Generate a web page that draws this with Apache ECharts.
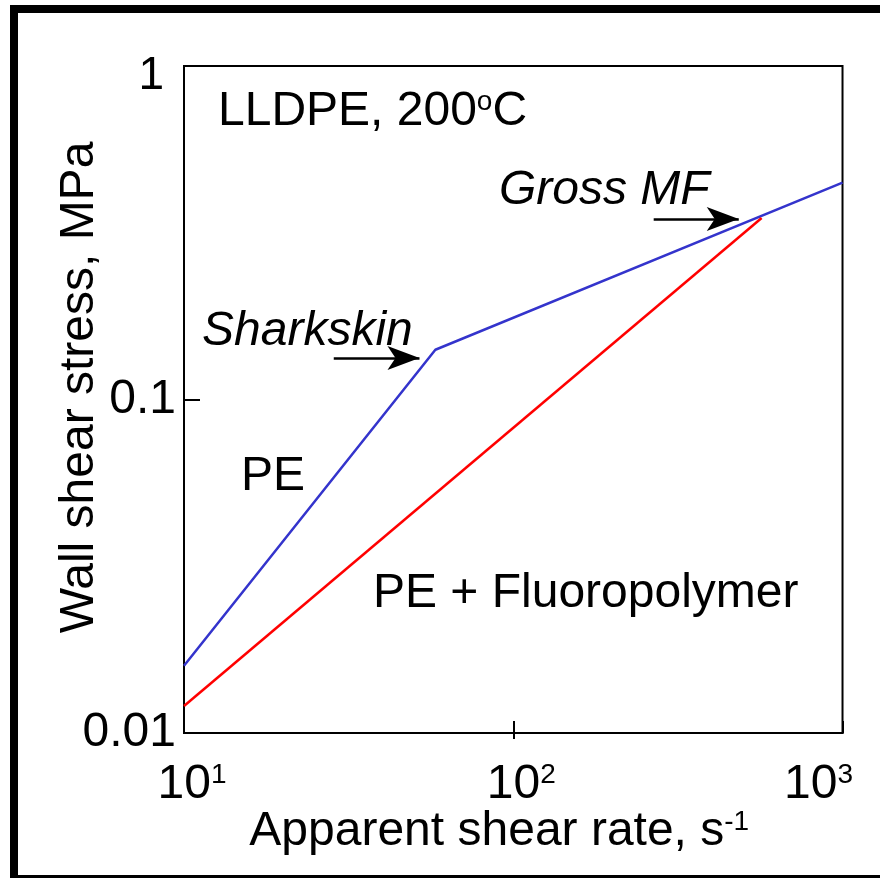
<!DOCTYPE html>
<html>
<head>
<meta charset="utf-8">
<title>LLDPE wall shear stress</title>
<script src="https://cdn.jsdelivr.net/npm/echarts@6/dist/echarts.min.js"></script>
<style>
  html, body { margin: 0; padding: 0; background: #fff; }
  #chart { width: 880px; height: 878px; }
</style>
</head>
<body>
<div id="chart"></div>
<script>
// Flow curves, log-log: apparent shear rate (1/s) vs wall shear stress (MPa)
const peRate = [10, 58, 1000];
const peStress = [0.0159, 0.141, 0.447];
const fpRate = [10, 568];
const fpStress = [0.01205, 0.350];

// Onset arrows (shear rate, stress) for the two instabilities
const sharkskinArrow = [[28.5, 0.1332], [51.9, 0.1332]];
const grossMfArrow = [[267, 0.3477], [484, 0.3477]];

// Axis tick labels
const xTickExp = { 1: '1', 2: '2', 3: '3' };
const yTickLabels = { 0: '1', '-1': '0.1', '-2': '0.01' };
const xStubTicks = [100];

const FONT = '"Liberation Sans", Arial, Helvetica, sans-serif';

const chart = echarts.init(document.getElementById('chart'), null, { renderer: 'canvas' });

function pairs(xs, ys) { return xs.map((x, i) => [x, ys[i]]); }

const option = {
  backgroundColor: '#fff',
  animation: false,
  grid: {
    left: 184, right: 36, top: 66, bottom: 145,
    show: true, borderColor: '#000', borderWidth: 2, backgroundColor: 'transparent'
  },
  xAxis: [{
    type: 'log', logBase: 10, min: 10, max: 1000,
    position: 'bottom',
    splitLine: { show: false },
    axisLine: { show: true, lineStyle: { color: '#000', width: 2 } },
    axisTick: { show: true, inside: true, length: 12, lineStyle: { color: '#000', width: 2 } },
    axisLabel: {
      margin: 28,
      fontFamily: FONT, color: '#000',
      formatter: function (v) {
        const e = Math.round(Math.log10(v));
        if (e === 3) return '{b|10}{s|' + xTickExp[e] + '}{post|}';
        return '{pre|}{b|10}{s|' + xTickExp[e] + '}';
      },
      rich: {
        b: { fontSize: 48, fontFamily: FONT, color: '#000' },
        s: { fontSize: 28, fontFamily: FONT, color: '#000', verticalAlign: 'top', lineHeight: 48 },
        pre: { width: 16 },
        post: { width: 48 }
      }
    },
    name: '{t|Apparent shear rate, s}{s|-1}',
    nameLocation: 'middle',
    nameGap: 75,
    nameMoveOverlap: false,
    nameTextStyle: {
      padding: [0, 28, 0, 0],
      rich: {
        t: { fontSize: 48, fontFamily: FONT, color: '#000' },
        s: { fontSize: 28, fontFamily: FONT, color: '#000', verticalAlign: 'top', lineHeight: 48 }
      }
    }
  }, {
    // short outward stub of the middle bottom tick
    type: 'log', logBase: 10, min: 10, max: 1000,
    position: 'bottom',
    splitLine: { show: false },
    axisLine: { show: false },
    axisTick: { show: true, inside: false, length: 6, customValues: xStubTicks, lineStyle: { color: '#000', width: 2 } },
    axisLabel: { show: false }
  }],
  yAxis: {
    type: 'log', logBase: 10, min: 0.01, max: 1,
    splitLine: { show: false },
    axisLine: { show: true, lineStyle: { color: '#000', width: 2 } },
    axisTick: { show: true, inside: true, length: 16, lineStyle: { color: '#000', width: 2 } },
    axisLabel: {
      margin: 8,
      fontFamily: FONT, color: '#000', fontSize: 48,
      formatter: function (v) {
        const e = Math.round(Math.log10(v));
        const t = yTickLabels[e];
        return e === 0 ? '{top|' + t + '}' : '{n|' + t + '}';
      },
      rich: {
        n: { fontSize: 48, fontFamily: FONT, color: '#000' },
        top: { fontSize: 46, fontFamily: FONT, color: '#000', padding: [20, 12, 0, 0] }
      }
    },
    name: 'Wall shear stress, MPa',
    nameLocation: 'middle',
    nameGap: 80,
    nameMoveOverlap: false,
    nameTextStyle: {
      fontSize: 48, fontFamily: FONT, color: '#000',
      padding: [0, 0, 0, 24]
    }
  },
  series: [{
    name: 'PE',
    type: 'line',
    data: pairs(peRate, peStress),
    symbol: 'none',
    lineStyle: { color: '#3434cc', width: 2.5 },
    markLine: {
      silent: true,
      symbol: ['none', 'arrow'],
      symbolSize: [18, 32],
      label: { show: false },
      lineStyle: { color: '#000', width: 2.5, type: 'solid' },
      data: [
        [{ coord: sharkskinArrow[0] }, { coord: sharkskinArrow[1] }],
        [{ coord: grossMfArrow[0] }, { coord: grossMfArrow[1] }]
      ]
    }
  }, {
    name: 'PE + Fluoropolymer',
    type: 'line',
    data: pairs(fpRate, fpStress),
    symbol: 'none',
    lineStyle: { color: '#ff0000', width: 2.5 }
  }],
  graphic: [
    {
      type: 'rect', silent: true, z: 100,
      shape: { x: 14, y: 9, width: 900, height: 870 },
      style: { fill: 'none', stroke: '#000', lineWidth: 8 }
    },
    {
      type: 'text', left: 218, top: 88, silent: true,
      style: {
        text: '{t|LLDPE, 200}{s|o}{t|C}',
        rich: {
          t: { fontSize: 48, fontFamily: FONT, fill: '#000' },
          s: { fontSize: 28, fontFamily: FONT, fill: '#000', verticalAlign: 'top', lineHeight: 48 }
        }
      }
    },
    {
      type: 'text', left: 499, top: 167, silent: true,
      style: { text: 'Gross MF', font: 'italic 48px ' + FONT, fill: '#000' }
    },
    {
      type: 'text', left: 202, top: 308, silent: true,
      style: { text: 'Sharkskin', font: 'italic 48px ' + FONT, fill: '#000' }
    },
    {
      type: 'text', left: 241, top: 453, silent: true,
      style: { text: 'PE', font: '48px ' + FONT, fill: '#000' }
    },
    {
      type: 'text', left: 373, top: 570, silent: true,
      style: { text: 'PE + Fluoropolymer', font: '48px ' + FONT, fill: '#000' }
    }
  ]
};

chart.setOption(option);
</script>
</body>
</html>
